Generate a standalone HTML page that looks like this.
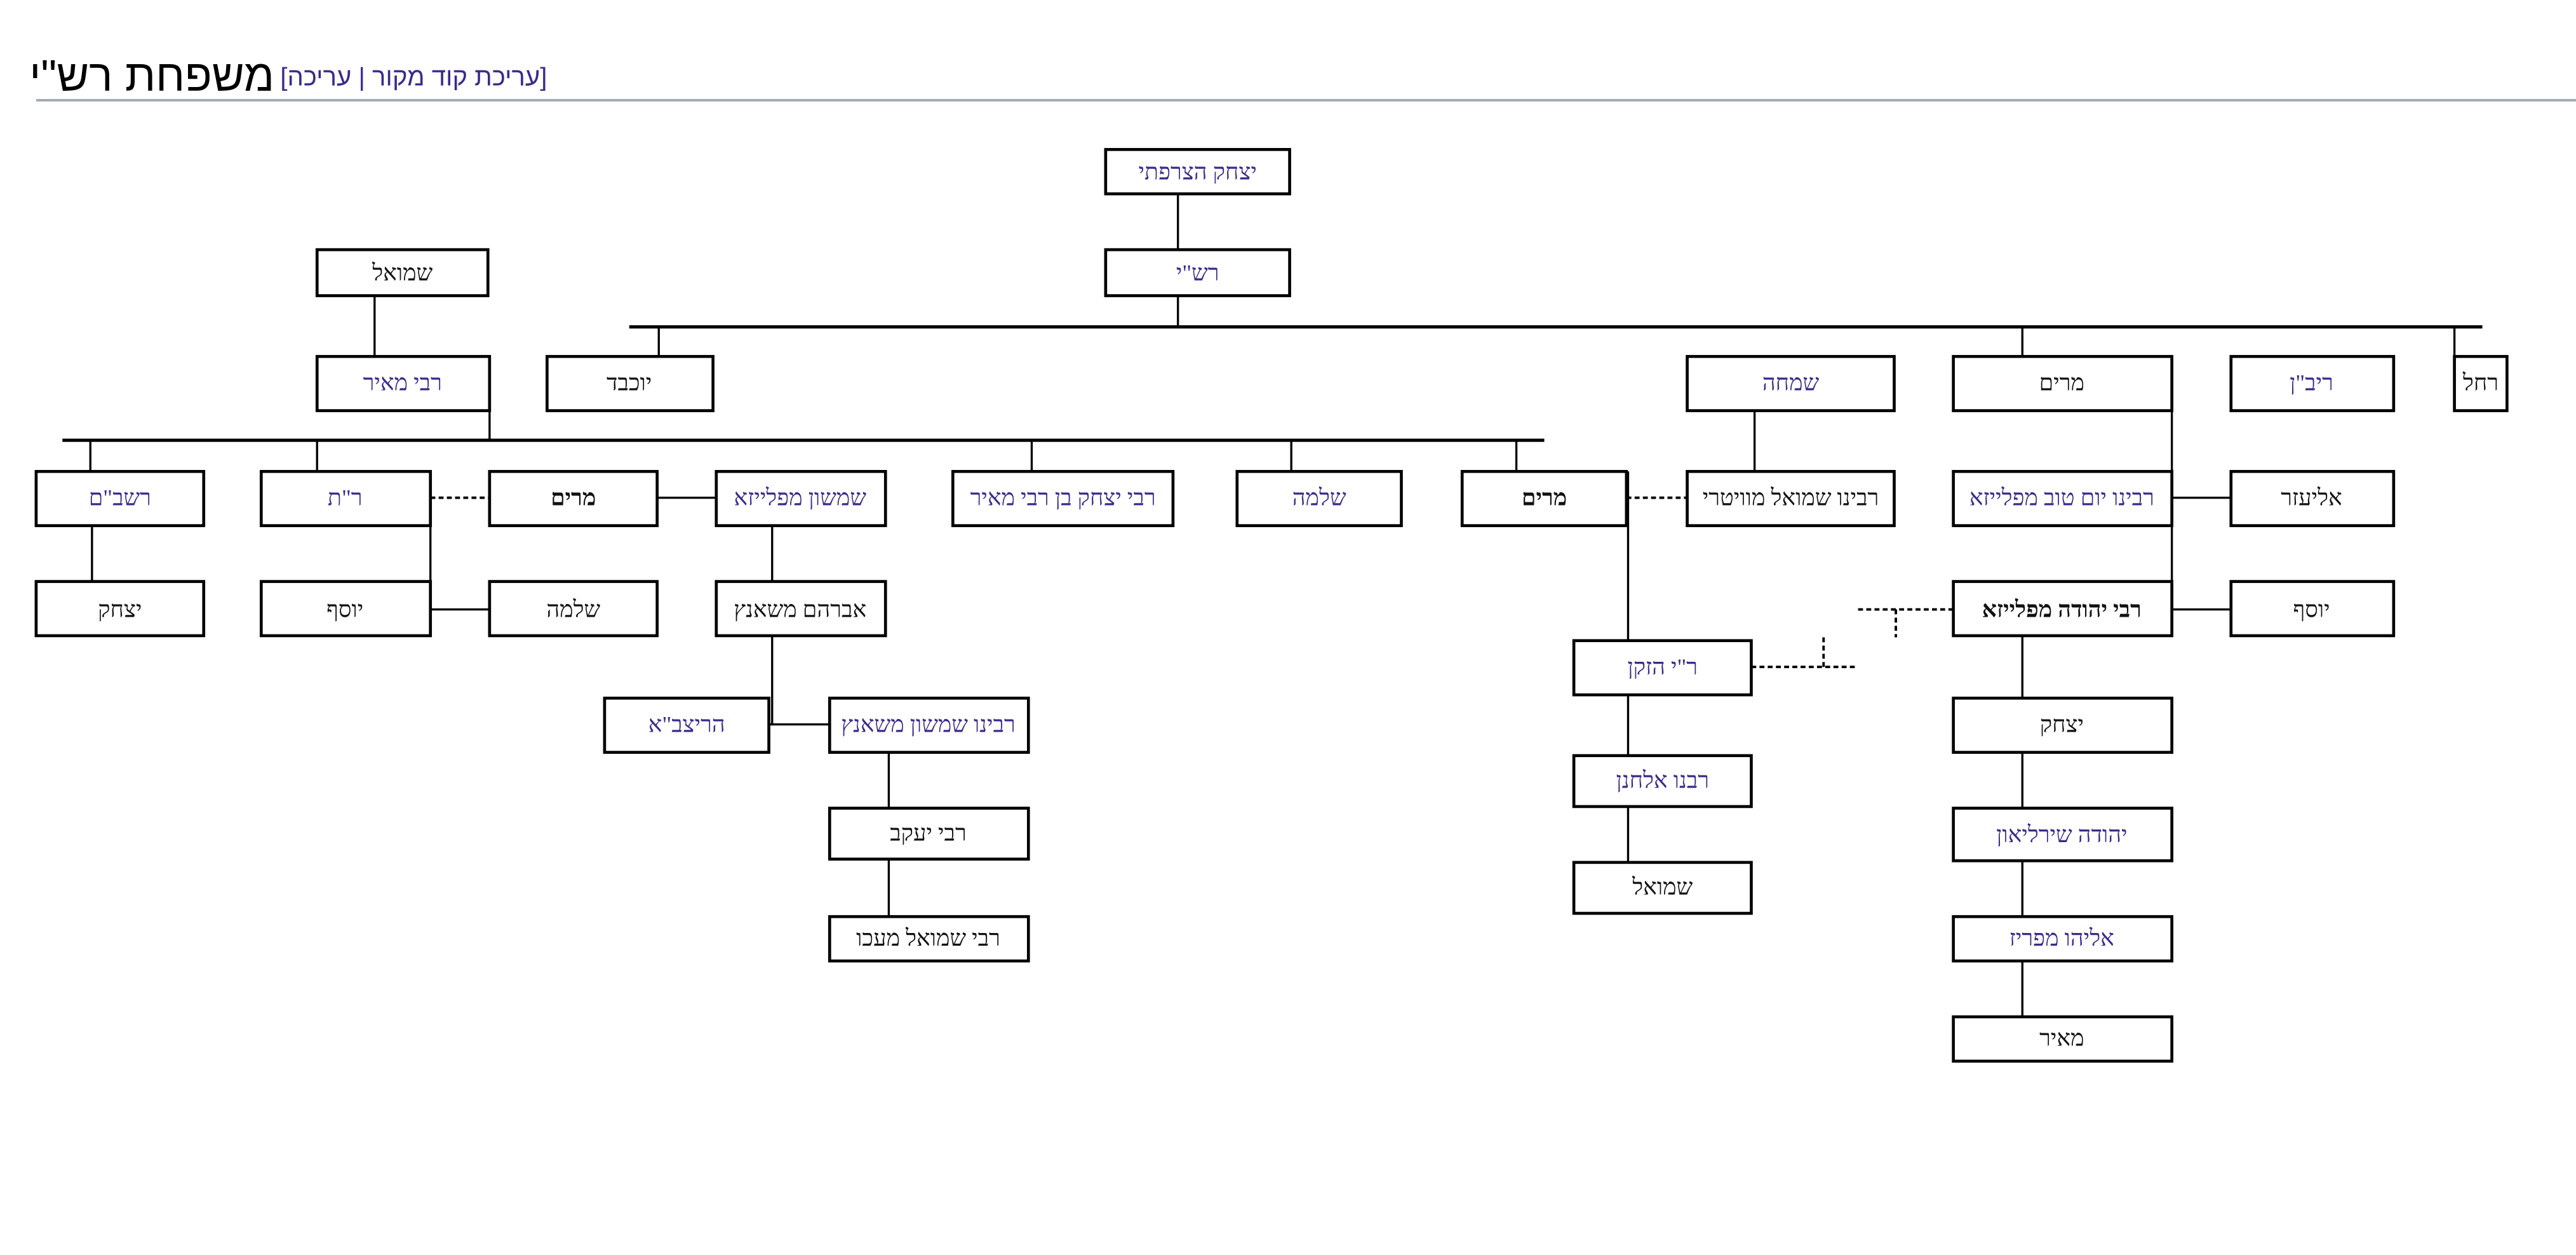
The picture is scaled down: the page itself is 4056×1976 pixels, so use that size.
<!DOCTYPE html>
<html><head><meta charset="utf-8"><style>
html,body{margin:0;padding:0;background:#fff;width:4056px;height:1976px;overflow:hidden}
svg{display:block}
text{font-family:"Liberation Serif","DejaVu Serif",serif;font-size:14px;text-anchor:middle;dominant-baseline:central}
.p{fill:#3b2a8c}.k{fill:#111}
rect{fill:#fff;stroke:#000;stroke-width:1.8}
.l{stroke:#000;stroke-width:1.3;fill:none}
.h{stroke:#000;stroke-width:2;fill:none}
.d{stroke:#000;stroke-width:1.5;stroke-dasharray:3,2;fill:none}
</style></head><body>
<svg width="4056" height="1976" viewBox="0 0 1568 764" preserveAspectRatio="none">
<text x="167" y="46" style="text-anchor:end;font-family:'Liberation Sans','DejaVu Sans',sans-serif;font-size:27px;fill:#000">משפחת רש"י</text>
<text x="333" y="47" style="text-anchor:end;font-family:'Liberation Sans','DejaVu Sans',sans-serif;font-size:15.5px;fill:#3b2a8c">[עריכת קוד מקור | עריכה]</text>
<line x1="22" y1="61" x2="1568" y2="61" stroke="#a2a9b1" stroke-width="1.5"/>

<g class="l">
<line x1="717" y1="118" x2="717" y2="152"/>
<line x1="717" y1="180" x2="717" y2="199"/>
<line x1="228" y1="180" x2="228" y2="217"/>
<line x1="401" y1="199" x2="401" y2="217"/>
<line x1="1231" y1="199" x2="1231" y2="217"/>
<line x1="1494" y1="199" x2="1494" y2="217"/>
<line x1="298" y1="235" x2="298" y2="268"/>
<line x1="55" y1="268" x2="55" y2="287"/>
<line x1="193" y1="268" x2="193" y2="287"/>
<line x1="628" y1="268" x2="628" y2="287"/>
<line x1="786" y1="268" x2="786" y2="287"/>
<line x1="923" y1="268" x2="923" y2="287"/>
<line x1="56" y1="320" x2="56" y2="354"/>
<line x1="262" y1="303" x2="262" y2="371"/>
<line x1="262" y1="371" x2="298" y2="371"/>
<line x1="400" y1="303" x2="436" y2="303"/>
<line x1="470" y1="320" x2="470" y2="354"/>
<line x1="470" y1="387" x2="470" y2="441"/>
<line x1="468" y1="441" x2="505" y2="441"/>
<line x1="541" y1="458" x2="541" y2="492"/>
<line x1="541" y1="523" x2="541" y2="558"/>
<line x1="1068" y1="250" x2="1068" y2="287"/>
<line x1="991" y1="287" x2="991" y2="390"/>
<line x1="991" y1="423" x2="991" y2="460"/>
<line x1="991" y1="491" x2="991" y2="525"/>
<line x1="1322" y1="235" x2="1322" y2="371"/>
<line x1="1322" y1="303" x2="1358" y2="303"/>
<line x1="1322" y1="371" x2="1358" y2="371"/>
<line x1="1231" y1="387" x2="1231" y2="425"/>
<line x1="1231" y1="458" x2="1231" y2="492"/>
<line x1="1231" y1="524" x2="1231" y2="558"/>
<line x1="1231" y1="585" x2="1231" y2="619"/>
</g>
<g class="h">
<line x1="383" y1="199" x2="1511" y2="199"/>
<line x1="38" y1="268" x2="940" y2="268"/>
</g>
<g class="d">
<line x1="262" y1="303" x2="298" y2="303"/>
<line x1="990" y1="303" x2="1027" y2="303"/>
<line x1="1131" y1="371" x2="1189" y2="371"/>
<line x1="1154" y1="371" x2="1154" y2="388"/>
<line x1="1066" y1="406" x2="1131" y2="406"/>
<line x1="1110" y1="388" x2="1110" y2="406"/>
</g>

<g>
<rect x="673" y="91" width="112" height="27"/><text class="p" x="729" y="104.5">יצחק הצרפתי</text>
<rect x="673" y="152" width="112" height="28"/><text class="p" x="729" y="166">רש"י</text>
<rect x="193" y="152" width="104" height="28"/><text class="k" x="245" y="166">שמואל</text>
<rect x="193" y="217" width="105" height="33"/><text class="p" x="245" y="233">רבי מאיר</text>
<rect x="333" y="217" width="101" height="33"/><text class="k" x="383" y="233">יוכבד</text>
<rect x="1027" y="217" width="126" height="33"/><text class="p" x="1090" y="233">שמחה</text>
<rect x="1189" y="217" width="133" height="33"/><text class="k" x="1255" y="233">מרים</text>
<rect x="1358" y="217" width="99" height="33"/><text class="p" x="1407" y="233">ריב"ן</text>
<rect x="1494" y="217" width="32" height="33"/><text class="k" x="1510" y="233">רחל</text>

<rect x="22" y="287" width="102" height="33"/><text class="p" x="73" y="303">רשב"ם</text>
<rect x="159" y="287" width="103" height="33"/><text class="p" x="210" y="303">ר"ת</text>
<rect x="298" y="287" width="102" height="33"/><text class="k" x="349" y="303" font-weight="bold">מרים</text>
<rect x="436" y="287" width="103" height="33"/><text class="p" x="487" y="303">שמשון מפלייזא</text>
<rect x="580" y="287" width="134" height="33"/><text class="p" x="647" y="303">רבי יצחק בן רבי מאיר</text>
<rect x="753" y="287" width="100" height="33"/><text class="p" x="803" y="303">שלמה</text>
<rect x="890" y="287" width="100" height="33"/><text class="k" x="940" y="303" font-weight="bold">מרים</text>
<rect x="1027" y="287" width="126" height="33"/><text class="k" x="1090" y="303">רבינו שמואל מוויטרי</text>
<rect x="1189" y="287" width="133" height="33"/><text class="p" x="1255" y="303">רבינו יום טוב מפלייזא</text>
<rect x="1358" y="287" width="99" height="33"/><text class="k" x="1407" y="303">אליעזר</text>

<rect x="22" y="354" width="102" height="33"/><text class="k" x="73" y="371">יצחק</text>
<rect x="159" y="354" width="103" height="33"/><text class="k" x="210" y="371">יוסף</text>
<rect x="298" y="354" width="102" height="33"/><text class="k" x="349" y="371">שלמה</text>
<rect x="436" y="354" width="103" height="33"/><text class="k" x="487" y="371">אברהם משאנץ</text>
<rect x="1189" y="354" width="133" height="33"/><text class="k" x="1255" y="371" font-weight="bold">רבי יהודה מפלייזא</text>
<rect x="1358" y="354" width="99" height="33"/><text class="k" x="1407" y="371">יוסף</text>

<rect x="368" y="425" width="100" height="33"/><text class="p" x="418" y="441">הריצב"א</text>
<rect x="505" y="425" width="121" height="33"/><text class="p" x="565" y="441">רבינו שמשון משאנץ</text>
<rect x="505" y="492" width="121" height="31"/><text class="k" x="565" y="507">רבי יעקב</text>
<rect x="505" y="558" width="121" height="27"/><text class="k" x="565" y="571">רבי שמואל מעכו</text>

<rect x="958" y="390" width="108" height="33"/><text class="p" x="1012" y="406">ר"י הזקן</text>
<rect x="958" y="460" width="108" height="31"/><text class="p" x="1012" y="475">רבנו אלחנן</text>
<rect x="958" y="525" width="108" height="31"/><text class="k" x="1012" y="540">שמואל</text>

<rect x="1189" y="425" width="133" height="33"/><text class="k" x="1255" y="441">יצחק</text>
<rect x="1189" y="492" width="133" height="32"/><text class="p" x="1255" y="508">יהודה שירליאון</text>
<rect x="1189" y="558" width="133" height="27"/><text class="p" x="1255" y="571">אליהו מפריז</text>
<rect x="1189" y="619" width="133" height="27"/><text class="k" x="1255" y="632">מאיר</text>
</g>
</svg>
</body></html>
